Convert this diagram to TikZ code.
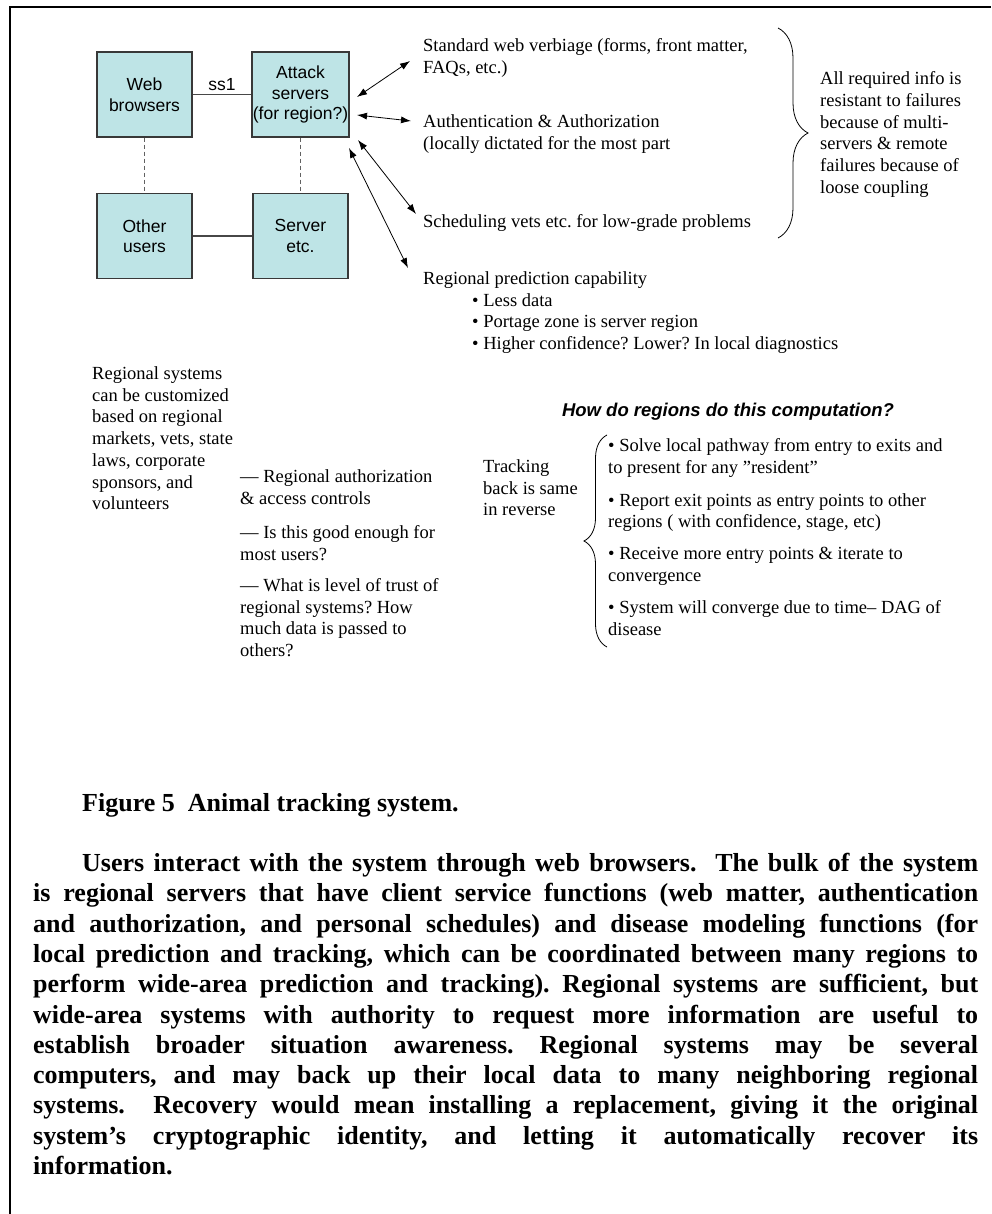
\documentclass[tikz,border=0pt]{standalone}
\usepackage{fontspec}
\setmainfont{Liberation Serif}
\setsansfont{Liberation Sans}
\usepackage{xcolor}
\usetikzlibrary{arrows.meta,positioning,decorations.pathreplacing}
\definecolor{boxfill}{RGB}{190,228,230}
\frenchspacing

\begin{document}
\begin{tikzpicture}[x=1pt, y=-1pt,
  >={Latex[length=10pt,width=7pt]},
  unit/.style={draw=black!78, line width=1.5pt, fill=boxfill, minimum width=95pt,
               minimum height=85pt, align=center, inner sep=1pt,
               font=\sffamily\fontsize{17.5}{20.5}\selectfont},
  link/.style={draw=black!72, line width=1.2pt},
  dbl/.style={<->, line width=0.8pt},
  note/.style={anchor=north west, align=left, inner sep=0pt,
               font=\fontsize{18.5}{21.7}\selectfont},
  curly/.style={decorate, decoration={brace, amplitude=#1}, line width=0.8pt},
  body/.style={anchor=north west, inner sep=0pt,
               font=\bfseries\fontsize{26}{30.3}\selectfont}]
  \useasboundingbox (0,0) rectangle (991,1214);
  \draw[line width=2pt] (10,1214) -- (10,7) -- (991,7);
  % servers and users
  \node[unit] (web)    at (144.5,94.5) {Web\\browsers};
  \node[unit] (attack) at (300.5,94.5) {Attack\\servers\\(for region?)};
  \node[unit] (other)  at (144.5,236)  {Other\\users};
  \node[unit] (server) at (300.5,236)  {Server\\etc.};
  \draw[link] (web) -- node[above=0pt, font=\sffamily\fontsize{17.5}{20}\selectfont] (ss) {ss1} (attack);
  \draw[link] (other) -- (server);
  \draw[link, draw=black!62, dash pattern=on 4pt off 3pt] (web) -- (other);
  \draw[link, draw=black!62, dash pattern=on 4pt off 3pt] (attack) -- (server);
  % services
  \node[note] (verb)  at (423,38.5)  {Standard web verbiage (forms, front matter,\\FAQs, etc.)};
  \node[note] (auth)  at (423,114.5) {Authentication \& Authorization\\(locally dictated for the most part};
  \node[note] (sched) at (423,214.5) {Scheduling vets etc. for low-grade problems};
  \node[note] (pred)  at (423,271.5) {Regional prediction capability\\
    \hspace*{49pt}• Less data\\
    \hspace*{49pt}• Portage zone is server region\\
    \hspace*{49pt}• Higher confidence? Lower? In local diagnostics};
  \coordinate (a1) at (357,97);  \coordinate (b1) at (410,61);
  \coordinate (a2) at (357,115); \coordinate (b2) at (411,121);
  \coordinate (a3) at (358,140); \coordinate (b3) at (416,214);
  \coordinate (a4) at (349,148); \coordinate (b4) at (408,268);
  \foreach \n in {1,...,4}
    \draw[dbl] (a\n) -- (b\n);
  \draw[curly=30] (778,28) -- (778,238);
  \node[note] (fail) at (820,71.5) {All required info is\\resistant to failures\\because of multi-\\servers \& remote\\failures because of\\loose coupling};
  % regional notes
  \node[note] (custom) at (92,366.5) {Regional systems\\can be customized\\based on regional\\markets, vets, state\\laws, corporate\\sponsors, and\\volunteers};
  \node[note] (ctl) at (240,469.5) {— Regional authorization\\\& access controls\\[13pt]
    — Is this good enough for\\most users?\\[9pt]
    — What is level of trust of\\regional systems? How\\much data is passed to\\others?};
  \node[font=\sffamily\bfseries\itshape\fontsize{18.5}{21}\selectfont] (how) at (728,412)
    {How do regions do this computation?};
  \node[note] (back) at (483,459.5) {Tracking\\back is same\\in reverse};
  \draw[curly=23] (607,647) -- (607,435);
  \node[note] (steps) at (608,438.5) {• Solve local pathway from entry to exits and\\to present for any ”resident”\\[11pt]
    • Report exit points as entry points to other\\regions ( with confidence, stage, etc)\\[10pt]
    • Receive more entry points \& iterate to\\convergence\\[11pt]
    • System will converge due to time– DAG of\\disease};
  % caption and text
  \node[body] (cap) at (82,793) {Figure 5\hspace{0.5em}Animal tracking system.};
  \node[body, text width=945pt, align=justify] (para) at (33,853)
    {\hyphenpenalty=10000 \exhyphenpenalty=10000
    \noindent\hspace*{49pt}Users interact with the system through web browsers.\ \ The bulk of the system\linebreak
    is regional servers that have client service functions (web matter, authentication\linebreak
    and authorization, and personal schedules) and disease modeling functions (for\linebreak
    local prediction and tracking, which can be coordinated between many regions to\linebreak
    perform wide-area prediction and tracking). Regional systems are sufficient, but\linebreak
    wide-area systems with authority to request more information are useful to\linebreak
    establish broader situation awareness. Regional systems may be several\linebreak
    computers, and may back up their local data to many neighboring regional\linebreak
    systems.\ \ Recovery would mean installing a replacement, giving it the original\linebreak
    system’s cryptographic identity, and letting it automatically recover its\linebreak
    information.};
\end{tikzpicture}
\end{document}
